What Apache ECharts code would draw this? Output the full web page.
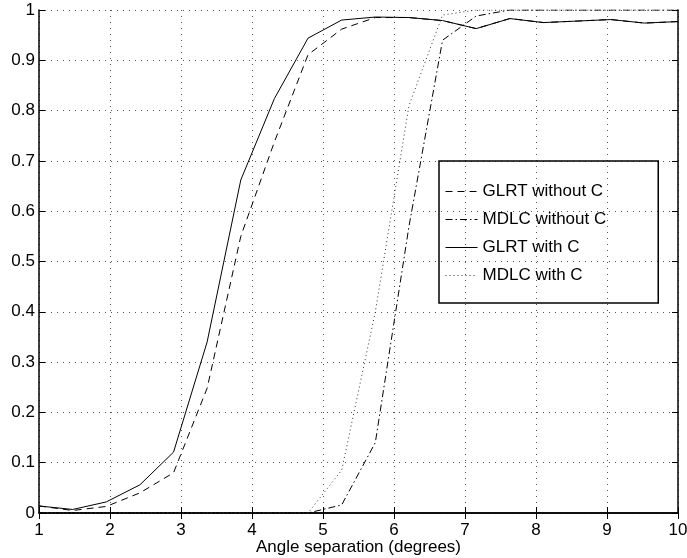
<!DOCTYPE html>
<html>
<head>
<meta charset="utf-8">
<script src="https://cdn.jsdelivr.net/npm/echarts@6/dist/echarts.min.js"></script>
<style>
html,body{margin:0;padding:0;background:#fff;}
#chart{width:687px;height:558px;}
</style>
</head>
<body>
<div id="chart"></div>
<script>
// Angle separation sample points (degrees)
const angles = [1, 1.474, 1.947, 2.421, 2.895, 3.368, 3.842, 4.316, 4.789, 5.263, 5.737, 6.211, 6.684, 7.158, 7.632, 8.105, 8.579, 9.053, 9.526, 10];
const glrtWithoutC = [0.014, 0.005, 0.013, 0.040, 0.080, 0.248, 0.550, 0.738, 0.911, 0.962, 0.985, 0.985, 0.979, 0.963, 0.983, 0.975, 0.978, 0.981, 0.974, 0.977];
const mdlcWithoutC = [0, 0, 0, 0, 0, 0, 0, 0, 0, 0.016, 0.140, 0.570, 0.940, 0.988, 1, 1, 1, 1, 1, 1];
const glrtWithC = [0.014, 0.007, 0.022, 0.056, 0.121, 0.340, 0.662, 0.824, 0.944, 0.980, 0.986, 0.985, 0.979, 0.963, 0.983, 0.975, 0.978, 0.981, 0.974, 0.977];
const mdlcWithC = [0, 0, 0, 0, 0, 0, 0, 0, 0, 0.085, 0.400, 0.810, 0.990, 1, 1, 1, 1, 1, 1, 1];
const seriesNames = ['GLRT without C', 'MDLC without C', 'GLRT with C', 'MDLC with C'];
const xTicks = {min: 1, max: 10, step: 1};
const yTicks = {min: 0, max: 1, step: 0.1};
const xLabel = 'Angle separation (degrees)';

const pairs = ys => angles.map((x, i) => [x, ys[i]]);
const FONT = '"Liberation Sans", Arial, Helvetica, sans-serif';

const chart = echarts.init(document.getElementById('chart'), null, {renderer: 'canvas'});
const tickStyle = {show: true, inside: true, length: 6, lineStyle: {color: '#000', width: 1}};
const axisLine = {show: true, lineStyle: {color: '#000', width: 1.5}};
const grid = {type: [1, 5], color: '#555', width: 1};

chart.setOption({
  animation: false,
  backgroundColor: '#fff',
  grid: {left: 39, right: 9, top: 10, bottom: 45, containLabel: false, outerBoundsMode: 'none'},
  xAxis: [
    {type: 'value', position: 'bottom', min: xTicks.min, max: xTicks.max, interval: xTicks.step,
     axisLine, axisTick: tickStyle,
     axisLabel: {color: '#000', fontSize: 17, fontFamily: FONT, margin: 9},
     splitLine: {show: true, lineStyle: grid},
     name: xLabel, nameLocation: 'middle', nameGap: 26, nameMoveOverlap: false,
     nameTextStyle: {color: '#000', fontSize: 17, fontFamily: FONT}},
    {type: 'value', position: 'top', min: xTicks.min, max: xTicks.max, interval: xTicks.step,
     axisLine, axisTick: tickStyle, axisLabel: {show: false}, splitLine: {show: false}}
  ],
  yAxis: [
    {type: 'value', position: 'left', min: yTicks.min, max: yTicks.max, interval: yTicks.step,
     axisLine, axisTick: tickStyle,
     axisLabel: {color: '#000', fontSize: 17, fontFamily: FONT, margin: 4},
     splitLine: {show: true, lineStyle: grid}},
    {type: 'value', position: 'right', min: yTicks.min, max: yTicks.max, interval: yTicks.step,
     axisLine, axisTick: tickStyle, axisLabel: {show: false}, splitLine: {show: false}}
  ],
  legend: {
    orient: 'vertical', left: 439, top: 161,
    itemWidth: 32, itemHeight: 14, itemGap: 11,
    padding: [22, 52, 19, 6],
    borderColor: '#000', borderWidth: 1.5, backgroundColor: 'transparent',
    itemStyle: {opacity: 0},
    lineStyle: {width: 1},
    textStyle: {color: '#000', fontSize: 17, fontFamily: FONT},
    data: seriesNames
  },
  series: [
    {name: seriesNames[0], type: 'line', data: pairs(glrtWithoutC), symbol: 'none',
     lineStyle: {color: '#000', width: 1, type: [7, 5]}, itemStyle: {color: '#000'}},
    {name: seriesNames[1], type: 'line', data: pairs(mdlcWithoutC), symbol: 'none',
     lineStyle: {color: '#000', width: 1, type: [7, 3, 1.5, 3]}, itemStyle: {color: '#000'}},
    {name: seriesNames[2], type: 'line', data: pairs(glrtWithC), symbol: 'none',
     lineStyle: {color: '#000', width: 1, type: 'solid'}, itemStyle: {color: '#000'}},
    {name: seriesNames[3], type: 'line', data: pairs(mdlcWithC), symbol: 'none',
     lineStyle: {color: '#333', width: 1, type: [1, 3]}, itemStyle: {color: '#333'}}
  ]
});
</script>
</body>
</html>
